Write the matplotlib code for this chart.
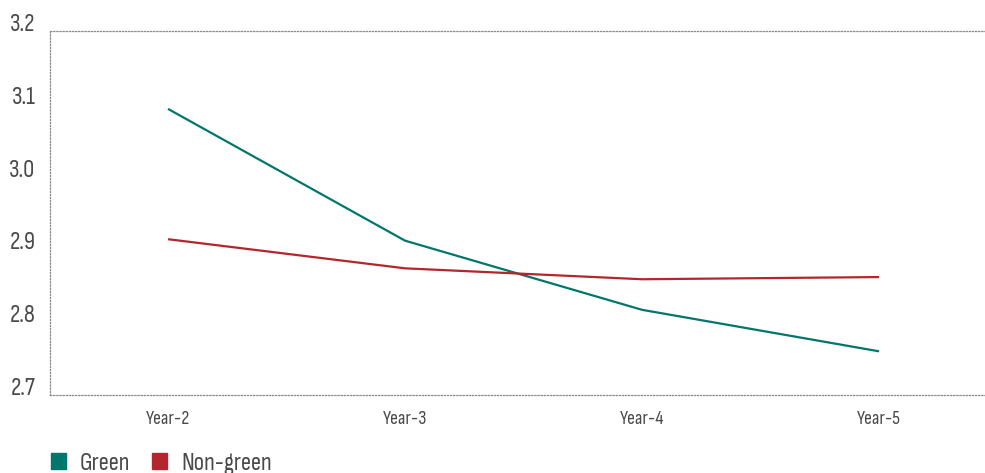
import matplotlib.pyplot as plt
from matplotlib.patches import Patch

years = ['Year-2', 'Year-3', 'Year-4', 'Year-5']
green = [3.093, 2.912, 2.817, 2.760]
non_green = [2.914, 2.874, 2.859, 2.862]
y_ticks = [2.7, 2.8, 2.9, 3.0, 3.1, 3.2]

green_col = '#00766c'
red_col = '#b3262e'
text_col = '#4a4a4a'
plt.rcParams['font.family'] = ['Sofia Sans Condensed', 'Fira Sans Extra Condensed', 'DejaVu Sans']
plt.rcParams['font.weight'] = 'light'

fig = plt.figure(figsize=(9.85, 4.73), dpi=100)
ax = fig.add_axes([50 / 985, 78 / 473, 935 / 985, 364 / 473])

x = list(range(len(years)))
ax.plot(x, green, color=green_col, lw=1.6, solid_capstyle='butt')
ax.plot(x, non_green, color=red_col, lw=1.6, solid_capstyle='butt')

ax.set_xlim(-0.498, 3.447)
ax.set_ylim(2.7, 3.2)
ax.set_xticks(x)
ax.set_xticklabels(years, fontsize=14, color=text_col)
ax.set_yticks(y_ticks)
ax.set_yticklabels(['%.1f' % v for v in y_ticks], fontsize=18, color=text_col, va='baseline')
ax.tick_params(axis='both', length=0)
ax.tick_params(axis='x', pad=11)
ax.tick_params(axis='y', pad=10.5)

for s in ['top', 'bottom', 'left']:
    ax.spines[s].set_linestyle((0, (1, 1.5)))
    ax.spines[s].set_color('#8c8c8c')
    ax.spines[s].set_linewidth(0.9)
ax.spines['right'].set_visible(False)

handles = [Patch(color=green_col, label='Green'), Patch(color=red_col, label='Non-green')]
fig.legend(handles=handles, loc='lower left', bbox_to_anchor=(28 / 985, -24 / 473), ncol=2,
           frameon=False, fontsize=18, handlelength=0.6, handleheight=0.6,
           handletextpad=0.56, columnspacing=0.9, labelcolor=text_col)

fig.savefig('out.png', dpi=100)
